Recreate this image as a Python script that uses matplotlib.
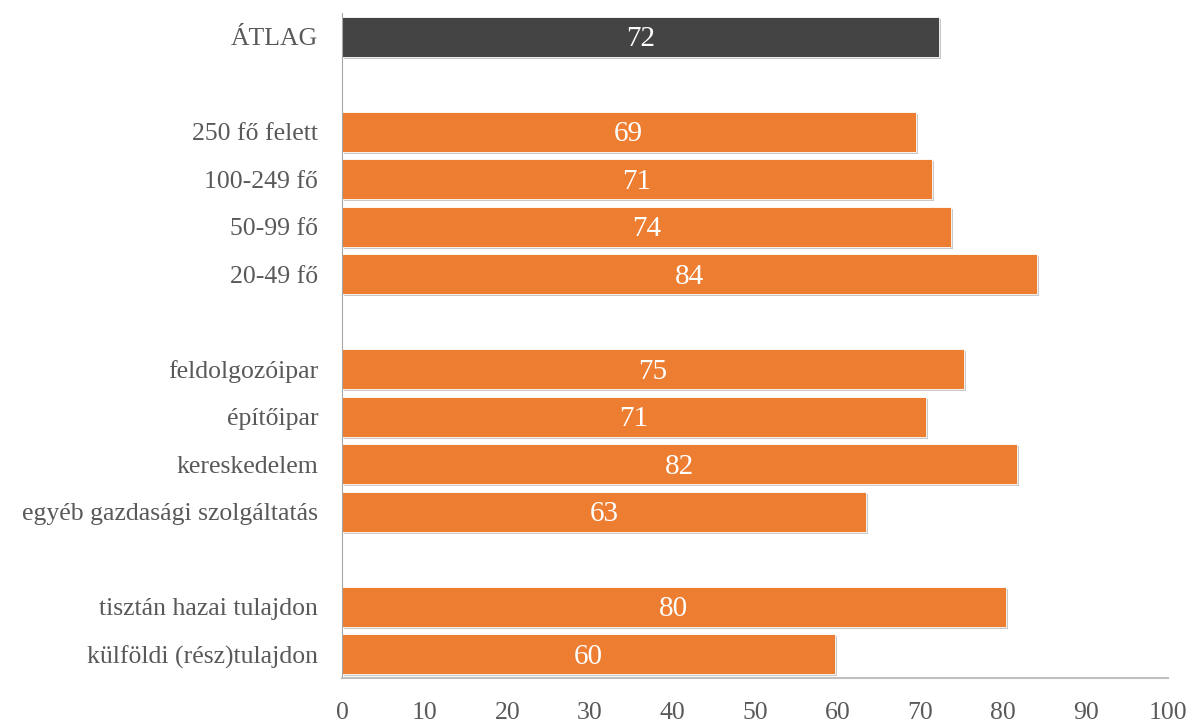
import matplotlib
matplotlib.use("Agg")
import matplotlib.pyplot as plt
import matplotlib.patheffects as pe

# adatok (felülről lefelé), None = üres hely a csoportok között
kategoriak = ["ÁTLAG", None,
              "250 fő felett", "100-249 fő", "50-99 fő", "20-49 fő", None,
              "feldolgozóipar", "építőipar", "kereskedelem", "egyéb gazdasági szolgáltatás", None,
              "tisztán hazai tulajdon", "külföldi (rész)tulajdon"]
ertekek = [72.2, None,
           69.4, 71.4, 73.7, 84.1, None,
           75.3, 70.7, 81.7, 63.4, None,
           80.3, 59.6]
cimkek = ["72", None, "69", "71", "74", "84", None, "75", "71", "82", "63", None, "80", "60"]
x_tickek = [0, 10, 20, 30, 40, 50, 60, 70, 80, 90, 100]

plt.rcParams['font.family'] = ['Liberation Serif', 'DejaVu Serif']
szurke = "#595959"

fig = plt.figure(figsize=(11.92, 7.22), dpi=100)
ax = fig.add_axes([0.2869, 0.061, 0.6933, 0.921])

for i, (kat, ert, cimke) in enumerate(zip(kategoriak, ertekek, cimkek)):
    if ert is None:
        continue
    szin = "#444444" if kat == "ÁTLAG" else "#ED7D31"
    bar = ax.barh(i, ert, height=0.84, color=szin, edgecolor="white", linewidth=0.6)
    bar[0].set_path_effects([pe.SimplePatchShadow(offset=(1.5, -1.5), shadow_rgbFace="#bbbbbb", alpha=0.8),
                             pe.Normal()])
    ax.text(ert / 2, i + 0.05, cimke, ha="center", va="center", color="white", fontsize=21)

poz = [i for i, k in enumerate(kategoriak) if k is not None]
ax.set_yticks(poz)
ax.set_yticklabels([kategoriak[i] for i in poz], fontsize=18.5, color=szurke)
ax.set_ylim(13.5, -0.5)
ax.set_xlim(0, 100)
ax.set_xticks(x_tickek)
ax.set_xticklabels([str(t) for t in x_tickek], fontsize=18.5, color=szurke)
ax.tick_params(axis="both", length=0)
ax.tick_params(axis="x", pad=17)
ax.tick_params(axis="y", pad=17)

for s in ["top", "right"]:
    ax.spines[s].set_visible(False)
ax.spines["left"].set_color("#a6a6a6")
ax.spines["bottom"].set_color("#bfbfbf")
ax.spines["bottom"].set_linewidth(1.5)

fig.savefig("out.png", dpi=100)
